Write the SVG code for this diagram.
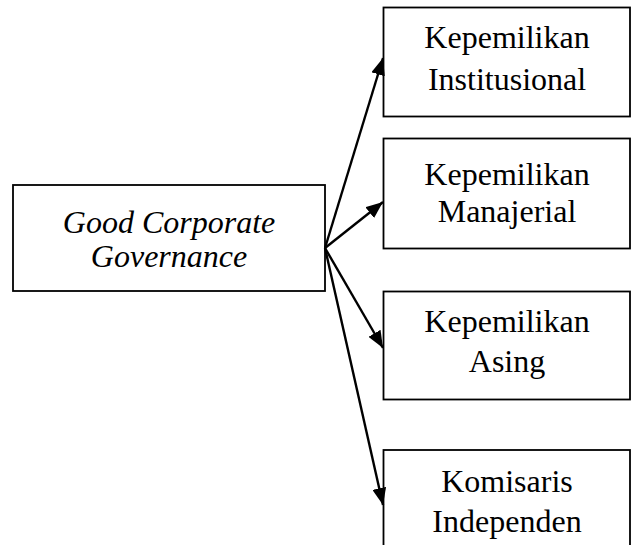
<svg xmlns="http://www.w3.org/2000/svg" width="631" height="545" viewBox="0 0 631 545">
  <style>
    .box { fill: #fff; stroke: #000; stroke-width: 1.8; }
    .t { font-family: "Liberation Serif", "Times New Roman", serif; font-size: 32px; fill: #000; text-anchor: middle; }
    .it { font-style: italic; }
    .conn { stroke: #000; stroke-width: 2.4; fill: none; marker-end: url(#arrow); }
  </style>
  <defs>
    <marker id="arrow" markerUnits="userSpaceOnUse" markerWidth="18" markerHeight="14" refX="17" refY="7" orient="auto">
      <path d="M0,0 L17,7 L0,14 Z" fill="#000"/>
    </marker>
  </defs>
  <rect width="631" height="545" fill="#fff"/>

  <g id="gcg">
    <rect class="box" x="13" y="185" width="312" height="106"/>
    <text class="t it" x="169" y="233">Good Corporate</text>
    <text class="t it" x="169" y="267">Governance</text>
  </g>

  <g id="institusional">
    <rect class="box" x="383.5" y="7.5" width="246.5" height="109"/>
    <text class="t" x="507" y="48">Kepemilikan</text>
    <text class="t" x="507" y="90">Institusional</text>
  </g>

  <g id="manajerial">
    <rect class="box" x="383.5" y="138.5" width="246.5" height="110"/>
    <text class="t" x="507" y="185">Kepemilikan</text>
    <text class="t" x="507" y="222">Manajerial</text>
  </g>

  <g id="asing">
    <rect class="box" x="383.5" y="291.5" width="246.5" height="108"/>
    <text class="t" x="507" y="332">Kepemilikan</text>
    <text class="t" x="507" y="372">Asing</text>
  </g>

  <g id="komisaris">
    <rect class="box" x="383.5" y="450" width="246.5" height="120"/>
    <text class="t" x="507" y="492">Komisaris</text>
    <text class="t" x="507" y="532">Independen</text>
  </g>

  <g id="connectors">
    <line class="conn" x1="325" y1="248" x2="383" y2="58"/>
    <line class="conn" x1="325" y1="248" x2="383" y2="202"/>
    <line class="conn" x1="325" y1="248" x2="383" y2="348"/>
    <line class="conn" x1="325" y1="248" x2="383" y2="505"/>
  </g>
</svg>
